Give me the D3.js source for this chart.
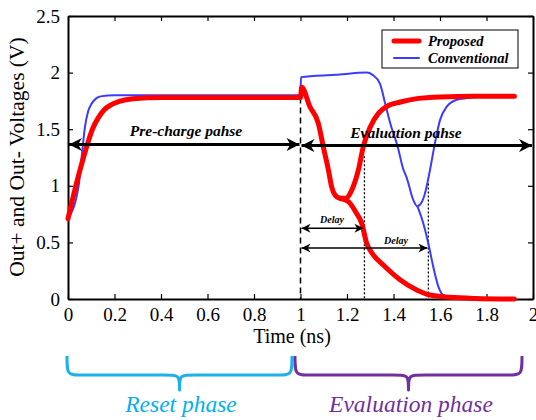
<!DOCTYPE html>
<html>
<head>
<meta charset="utf-8">
<script src="https://cdn.jsdelivr.net/npm/d3@7"></script>
<style>
  html, body { margin: 0; padding: 0; background: #fff; }
  svg { display: block; }
  text { font-family: "Liberation Serif", "Times New Roman", serif; }
</style>
</head>
<body>
<div id="chart"></div>
<script>
// Proposed (red) - Out+ : precharge, dip then recover
const proposedPlusT = [0, 0.04, 0.078, 0.105, 0.13, 0.155, 0.185, 0.22, 0.28, 0.4, 0.6, 0.8, 1.0, 1.005, 1.04, 1.077, 1.098, 1.12, 1.134, 1.148, 1.17, 1.195, 1.22, 1.249, 1.27, 1.3, 1.335, 1.37, 1.43, 1.5, 1.6, 1.75, 1.92];
const proposedPlusV = [0.71, 1.05, 1.33, 1.5, 1.6, 1.67, 1.715, 1.745, 1.77, 1.78, 1.78, 1.78, 1.78, 1.87, 1.7, 1.55, 1.345, 1.14, 0.99, 0.92, 0.89, 0.89, 0.96, 1.14, 1.345, 1.52, 1.64, 1.7, 1.74, 1.77, 1.785, 1.79, 1.79];
// Proposed (red) - Out- : branch falling to 0
const proposedMinusT = [1.17, 1.206, 1.24, 1.263, 1.285, 1.313, 1.356, 1.428, 1.5, 1.557, 1.643, 1.75, 1.92];
const proposedMinusV = [0.89, 0.86, 0.76, 0.67, 0.49, 0.39, 0.3, 0.17, 0.08, 0.035, 0.015, 0.005, 0];

// Conventional (blue) - Out+
const conventionalPlusT = [0, 0.045, 0.06, 0.073, 0.087, 0.1, 0.12, 0.14, 0.2, 0.3, 1.0, 1.002, 1.15, 1.285, 1.31, 1.342, 1.365, 1.385, 1.42, 1.44, 1.457, 1.485, 1.502, 1.52, 1.535, 1.557, 1.578, 1.6, 1.629, 1.672, 1.715, 1.8, 1.9];
const conventionalPlusV = [0.71, 0.99, 1.28, 1.52, 1.66, 1.72, 1.77, 1.79, 1.8, 1.8, 1.8, 1.96, 1.98, 2.0, 1.98, 1.9, 1.72, 1.56, 1.33, 1.16, 1.07, 0.875, 0.82, 0.85, 0.93, 1.14, 1.375, 1.58, 1.7, 1.76, 1.775, 1.79, 1.79];
// Conventional (blue) - Out-
const conventionalMinusT = [1.502, 1.51, 1.528, 1.55, 1.571, 1.593, 1.614, 1.657, 1.75, 1.9];
const conventionalMinusV = [0.82, 0.78, 0.67, 0.49, 0.285, 0.11, 0.035, 0.01, 0, 0];

const xTicks = [0, 0.2, 0.4, 0.6, 0.8, 1, 1.2, 1.4, 1.6, 1.8, 2];
const yTicks = [0, 0.5, 1, 1.5, 2, 2.5];

// phase boundary and delay markers (ns)
const evalStart = 1.0;
const proposedDelayEnd = 1.275;
const conventionalDelayEnd = 1.55;

const width = 536, height = 420;
const margin = { top: 16, right: 3, bottom: 121, left: 68 };

const svg = d3.select("#chart").append("svg")
  .attr("width", width)
  .attr("height", height);

const x = d3.scaleLinear().domain([0, 2]).range([margin.left, width - margin.right]);
const y = d3.scaleLinear().domain([0, 2.5]).range([height - margin.bottom, margin.top]);

const zip = (t, v) => t.map((d, i) => [d, v[i]]);
const line = d3.line().x(d => x(d[0])).y(d => y(d[1])).curve(d3.curveMonotoneX);

// arrow heads
const defs = svg.append("defs");
const marker = (id, w, h) => defs.append("marker")
  .attr("id", id)
  .attr("viewBox", "0 0 10 10")
  .attr("refX", 10).attr("refY", 5)
  .attr("markerUnits", "userSpaceOnUse")
  .attr("markerWidth", w).attr("markerHeight", h)
  .attr("orient", "auto-start-reverse")
  .append("path").attr("d", "M0,0 L10,5 L0,10 L3,5 Z").attr("fill", "#000");
marker("bigHead", 16, 13);
marker("smallHead", 10, 9);

// axes: bottom, left with labels; top, right with only ticks
const fmt = d3.format("");
const axisFont = g => g.selectAll("text")
  .style("font-family", '"Liberation Serif", serif')
  .style("font-size", "19px")
  .attr("fill", "#000");

svg.append("g")
  .attr("transform", `translate(0,${y(0)})`)
  .call(d3.axisBottom(x).tickValues(xTicks).tickFormat(fmt).tickSizeInner(-5).tickSizeOuter(0).tickPadding(9))
  .call(axisFont);

svg.append("g")
  .attr("transform", `translate(${x(0)},0)`)
  .call(d3.axisLeft(y).tickValues(yTicks).tickFormat(fmt).tickSizeInner(-5).tickSizeOuter(0).tickPadding(8))
  .call(axisFont);

svg.append("g")
  .attr("transform", `translate(0,${y(2.5)})`)
  .call(d3.axisTop(x).tickValues(xTicks).tickFormat("").tickSizeInner(-5).tickSizeOuter(0));

svg.append("g")
  .attr("transform", `translate(${x(2)},0)`)
  .call(d3.axisRight(y).tickValues(yTicks).tickFormat("").tickSizeInner(-5).tickSizeOuter(0));

svg.selectAll(".domain").attr("stroke", "#000").attr("stroke-width", 2);
svg.selectAll(".tick line").attr("stroke", "#000").attr("stroke-width", 1.2);

// phase boundary dashed line and delay dotted lines
svg.append("line")
  .attr("x1", x(evalStart)).attr("x2", x(evalStart))
  .attr("y1", y(1.78)).attr("y2", y(0))
  .attr("stroke", "#000").attr("stroke-width", 1.5).attr("stroke-dasharray", "6,4");

svg.append("line")
  .attr("x1", x(proposedDelayEnd)).attr("x2", x(proposedDelayEnd))
  .attr("y1", y(1.26)).attr("y2", y(0))
  .attr("stroke", "#000").attr("stroke-width", 1.3).attr("stroke-dasharray", "2,2");

svg.append("line")
  .attr("x1", x(conventionalDelayEnd)).attr("x2", x(conventionalDelayEnd))
  .attr("y1", y(1.02)).attr("y2", y(0))
  .attr("stroke", "#000").attr("stroke-width", 1.3).attr("stroke-dasharray", "2,2");

// curves: blue first, red on top
const curves = [
  { t: conventionalPlusT, v: conventionalPlusV, color: "#3b3bff", w: 2 },
  { t: conventionalMinusT, v: conventionalMinusV, color: "#3b3bff", w: 2 },
  { t: proposedPlusT, v: proposedPlusV, color: "#ff0000", w: 5 },
  { t: proposedMinusT, v: proposedMinusV, color: "#ff0000", w: 5 }
];
svg.selectAll(".curve")
  .data(curves)
  .enter()
  .append("path")
  .attr("class", "curve")
  .attr("d", d => line(zip(d.t, d.v)))
  .attr("fill", "none")
  .attr("stroke", d => d.color)
  .attr("stroke-width", d => d.w)
  .attr("stroke-linecap", "round")
  .attr("stroke-linejoin", "round");

// phase arrows
const arrow = (x1, x2, yv, w, head) => svg.append("line")
  .attr("x1", x1).attr("x2", x2)
  .attr("y1", y(yv)).attr("y2", y(yv))
  .attr("stroke", "#000").attr("stroke-width", w)
  .attr("marker-start", `url(#${head})`)
  .attr("marker-end", `url(#${head})`);

arrow(x(0) + 1, x(evalStart) - 1, 1.365, 3, "bigHead");
arrow(x(evalStart) + 1, x(2) - 1, 1.355, 3, "bigHead");
arrow(x(evalStart) + 1, x(proposedDelayEnd) - 1, 0.625, 1.5, "smallHead");
arrow(x(evalStart) + 1, x(conventionalDelayEnd) - 1, 0.45, 1.5, "smallHead");

const label = (tx, ty, s, size) => svg.append("text")
  .attr("x", tx).attr("y", ty)
  .attr("text-anchor", "middle")
  .style("font-size", size + "px")
  .style("font-weight", "bold")
  .style("font-style", "italic")
  .text(s);

label(186, 136, "Pre-charge pahse", 15.5);
label(406, 138, "Evaluation pahse", 15.5);
label(332, 223, "Delay", 10);
label(396, 244, "Delay", 10);

// legend
const legend = svg.append("g");
legend.append("rect")
  .attr("x", 382).attr("y", 30).attr("width", 136).attr("height", 38)
  .attr("fill", "#fff").attr("stroke", "#000").attr("stroke-width", 1);
[
  { name: "Proposed", color: "#ff0000", w: 5, yy: 41 },
  { name: "Conventional", color: "#3b3bff", w: 2, yy: 58 }
].forEach(d => {
  legend.append("line")
    .attr("x1", 394).attr("x2", 419).attr("y1", d.yy).attr("y2", d.yy)
    .attr("stroke", d.color).attr("stroke-width", d.w).attr("stroke-linecap", "round");
  legend.append("text")
    .attr("x", 428).attr("y", d.yy + 5)
    .style("font-size", "14.5px").style("font-weight", "bold").style("font-style", "italic")
    .text(d.name);
});

// axis titles
svg.append("text")
  .attr("x", 292).attr("y", 343)
  .attr("text-anchor", "middle")
  .style("font-size", "20px")
  .text("Time (ns)");

svg.append("text")
  .attr("transform", `translate(24,157) rotate(-90)`)
  .attr("text-anchor", "middle")
  .style("font-size", "21.5px")
  .text("Out+ and Out- Voltages (V)");

// phase braces under the axis
const brace = (x1, x2, color) => {
  const m = (x1 + x2) / 2, top = 356, mid = 375, tip = 390, r = 16;
  const p = `M${x1},${top} C${x1},${mid} ${x1},${mid} ${x1 + r},${mid} L${m - r},${mid} C${m},${mid} ${m},${mid} ${m},${tip} ` +
            `C${m},${mid} ${m},${mid} ${m + r},${mid} L${x2 - r},${mid} C${x2},${mid} ${x2},${mid} ${x2},${top}`;
  svg.append("path").attr("d", p).attr("fill", "none")
    .attr("stroke", color).attr("stroke-width", 3).attr("stroke-linejoin", "round");
};
brace(67, 292, "#1fb0ea");
brace(295, 522, "#7030a0");

svg.append("text")
  .attr("x", 181).attr("y", 412).attr("text-anchor", "middle")
  .style("font-size", "23.5px").style("font-style", "italic")
  .attr("fill", "#00b0f0")
  .text("Reset phase");

svg.append("text")
  .attr("x", 411).attr("y", 412).attr("text-anchor", "middle")
  .style("font-size", "23.5px").style("font-style", "italic")
  .attr("fill", "#7030a0")
  .text("Evaluation phase");
</script>
</body>
</html>
